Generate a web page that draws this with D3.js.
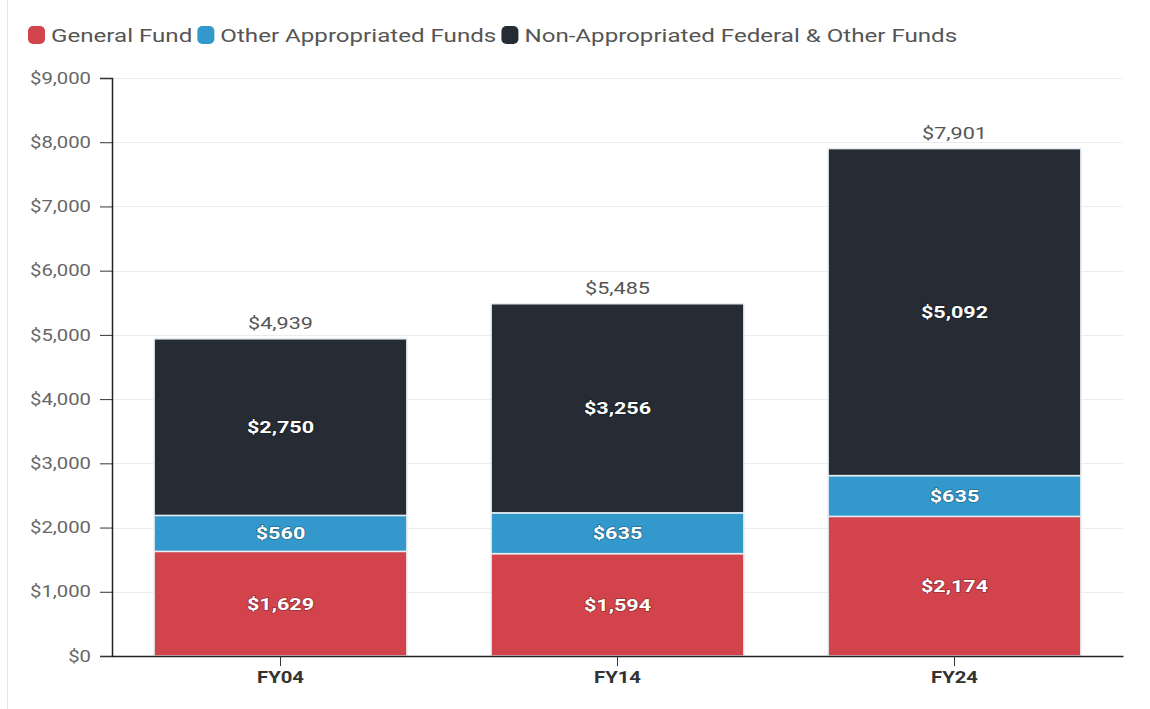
<!DOCTYPE html>
<html>
<head>
<meta charset="utf-8">
<script src="https://cdn.jsdelivr.net/npm/d3@7"></script>
<style>
  html, body { margin: 0; padding: 0; background: #fff; }
  svg { display: block; font-family: Roboto, "Open Sans", sans-serif; }
</style>
</head>
<body>
<svg id="chart" width="1150" height="709"></svg>
<script>
// Fiscal years shown along the x axis
const years = ["FY04", "FY14", "FY24"];
// Spending by fund source, in millions of dollars
const generalFund = [1629, 1594, 2174];
const otherAppropriated = [560, 635, 635];
const nonAppropriated = [2750, 3256, 5092];
// Series names and colours
const seriesNames = ["General Fund", "Other Appropriated Funds", "Non-Appropriated Federal & Other Funds"];
const seriesColors = ["#d2434b", "#3399cc", "#252c33"];
// Y axis ticks
const yTicks = [0, 1000, 2000, 3000, 4000, 5000, 6000, 7000, 8000, 9000];

const keys = ["gf", "oa", "na"];
const rows = years.map((yr, i) => ({
  year: yr, gf: generalFund[i], oa: otherAppropriated[i], na: nonAppropriated[i]
}));
const stacked = d3.stack().keys(keys)(rows);

const svg = d3.select("#chart");
const W = 1150, H = 709;
const margin = { left: 112, right: 27, top: 78, bottom: 53 };
// Horizontal widening applied to all text
const SX = 1.27;

// Move a text's x/y into a transform and widen it horizontally
function widen(sel) {
  sel.each(function () {
    const t = d3.select(this);
    const tx = +t.attr("x") || 0, ty = +t.attr("y") || 0;
    t.attr("x", 0).attr("y", 0)
      .attr("transform", `translate(${tx},${ty}) scale(${SX},1)`);
  });
}

const x = d3.scaleBand().domain(years)
  .range([margin.left, W - margin.right]).paddingInner(0.25).paddingOuter(0.125);
const y = d3.scaleLinear().domain([0, 9000]).range([H - margin.bottom, margin.top]);

const fmt = d3.format("$,");

// Frame edge on the left
svg.append("line").attr("x1", 7.5).attr("x2", 7.5).attr("y1", 0).attr("y2", H)
  .attr("stroke", "#e4e4e4").attr("stroke-width", 1);

// Gridlines
svg.append("g").selectAll("line").data(yTicks.filter(d => d > 0)).join("line")
  .attr("x1", margin.left).attr("x2", W - margin.right)
  .attr("y1", d => Math.round(y(d)) + 0.5).attr("y2", d => Math.round(y(d)) + 0.5)
  .attr("stroke", "#ececec").attr("stroke-width", 1);

// Bars
const layer = svg.append("g").selectAll("g").data(stacked).join("g")
  .attr("fill", (d, i) => seriesColors[i]);
layer.selectAll("rect").data(d => d).join("rect")
  .attr("x", d => x(d.data.year))
  .attr("width", x.bandwidth())
  .attr("y", d => y(d[1]))
  .attr("height", d => y(d[0]) - y(d[1]))
  .attr("stroke", "#e8eef2").attr("stroke-width", 1.5);

// Value labels inside segments
const segLabels = svg.append("g");
stacked.forEach((s) => {
  s.forEach(d => {
    const cx = x(d.data.year) + x.bandwidth() / 2;
    const cy = (y(d[0]) + y(d[1])) / 2;
    segLabels.append("text")
      .attr("x", cx).attr("y", cy).attr("dy", "0.35em")
      .attr("text-anchor", "middle")
      .attr("font-size", 17).attr("font-weight", 700)
      .attr("fill", "#ffffff")
      .style("paint-order", "stroke").attr("stroke", "rgba(0,0,0,0.3)").attr("stroke-width", 1.5)
      .text(fmt(d[1] - d[0]));
  });
});
widen(segLabels.selectAll("text"));

// Totals above bars
const topLayer = stacked[stacked.length - 1];
const totals = svg.append("g").selectAll("text").data(topLayer).join("text")
  .attr("x", d => x(d.data.year) + x.bandwidth() / 2)
  .attr("y", d => y(d[1]) - 10)
  .attr("text-anchor", "middle")
  .attr("font-size", 17).attr("fill", "#555")
  .text(d => fmt(d[1]));
widen(totals);

// Y axis
const yAxis = svg.append("g").attr("transform", `translate(${margin.left},0)`)
  .call(d3.axisLeft(y).tickValues(yTicks).tickFormat(fmt).tickSize(12).tickPadding(9));
yAxis.select(".domain").attr("stroke", "#222").attr("stroke-width", 1.5);
yAxis.selectAll(".tick line").attr("stroke", "#333");
yAxis.selectAll(".tick text").attr("font-size", 16).attr("fill", "#666")
  .attr("font-family", "Roboto, sans-serif");
widen(yAxis.selectAll(".tick text"));

// X axis
const xAxis = svg.append("g").attr("transform", `translate(0,${y(0)})`)
  .call(d3.axisBottom(x).tickSize(10).tickPadding(6).tickSizeOuter(0));
xAxis.select(".domain").attr("stroke", "#222").attr("stroke-width", 1.5);
xAxis.selectAll(".tick line").attr("stroke", "#333");
xAxis.selectAll(".tick text").attr("font-size", 16).attr("font-weight", 700)
  .attr("fill", "#333").attr("font-family", "Roboto, sans-serif");
widen(xAxis.selectAll(".tick text"));

// Legend
const legend = svg.append("g").attr("transform", "translate(28,35)");
let lx = 0;
seriesNames.forEach((name, i) => {
  const g = legend.append("g").attr("transform", `translate(${lx},0)`);
  g.append("rect").attr("x", 0).attr("y", -9).attr("width", 17).attr("height", 18)
    .attr("rx", 5).attr("fill", seriesColors[i]);
  const t = g.append("text").attr("x", 23).attr("y", 0).attr("dy", "0.35em")
    .attr("font-size", 19).attr("fill", "#555").text(name);
  const len = t.node().getComputedTextLength() * SX;
  widen(t);
  lx += 23 + len + 5;
});
</script>
</body>
</html>
